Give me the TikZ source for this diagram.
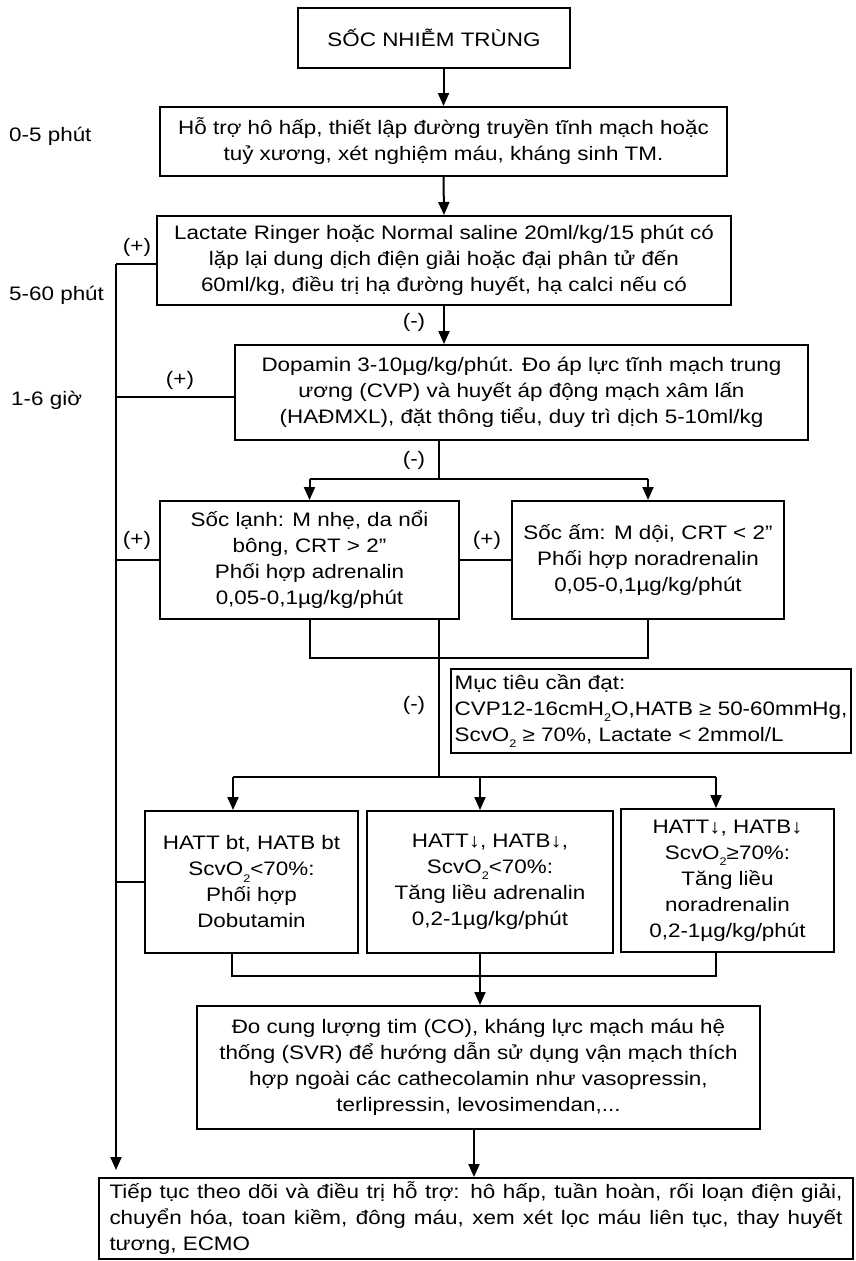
\documentclass[tikz,border=0pt]{standalone}
\usepackage{fontspec}
\setmainfont{Liberation Sans}[FakeStretch=1.15]
\usetikzlibrary{arrows.meta}
\newcommand{\subtwo}{\raisebox{-0.6ex}{\fontsize{11}{11}\selectfont 2}}
\begin{document}
\begin{tikzpicture}[x=1pt,y=-1pt,
  every node/.style={font=\fontsize{19.5}{26}\selectfont},
  box/.style={draw, line width=2pt, inner sep=0pt, align=center},
  link/.style={line width=2pt},
  arr/.style={line width=2pt, -{Triangle[length=13pt,width=11pt]}},
  sign/.style={inner sep=0pt},
  timelbl/.style={anchor=west, inner sep=0pt}]
\useasboundingbox (0,0) rectangle (855,1261);

% boxes of the flow
\node[box, minimum width=272, minimum height=60] (b1) at (434,38) {SỐC NHIỄM TRÙNG};
\node[box, minimum width=567, minimum height=69] (b2) at (443.5,141.5)
  {Hỗ trợ hô hấp, thiết lập đường truyền tĩnh mạch hoặc\\tuỷ xương, xét nghiệm máu, kháng sinh TM.};
\node[box, minimum width=574, minimum height=89] (b3) at (444,260.5)
  {Lactate Ringer hoặc Normal saline 20ml/kg/15 phút có\\lặp lại dung dịch điện giải hoặc đại phân tử đến\\60ml/kg, điều trị hạ đường huyết, hạ calci nếu có};
\node[box, minimum width=573, minimum height=95] (b4) at (521.5,392.5)
  {Dopamin 3-10µg/kg/phút. Đo áp lực tĩnh mạch trung\\ương (CVP) và huyết áp động mạch xâm lấn\\(HAĐMXL), đặt thông tiểu, duy trì dịch 5-10ml/kg};
\node[box, minimum width=299, minimum height=118] (b5) at (309.5,560)
  {Sốc lạnh: M nhẹ, da nổi\\bông, CRT > 2”\\Phối hợp adrenalin\\0,05-0,1µg/kg/phút};
\node[box, minimum width=272, minimum height=118] (b6) at (648,560)
  {Sốc ấm: M dội, CRT < 2”\\Phối hợp noradrenalin\\0,05-0,1µg/kg/phút};
\node[box, minimum width=400, minimum height=84, align=left] (goal) at (651,711)
  {Mục tiêu cần đạt:\\CVP12-16cmH\subtwo O,HATB ≥ 50-60mmHg,\\ScvO\subtwo\ ≥ 70\%, Lactate < 2mmol/L};
\node[box, minimum width=213, minimum height=142] (b7) at (251.5,882)
  {HATT bt, HATB bt\\ScvO\subtwo<70\%:\\Phối hợp\\Dobutamin};
\node[box, minimum width=246, minimum height=142] (b8) at (490,882)
  {HATT↓, HATB↓,\\ScvO\subtwo<70\%:\\Tăng liều adrenalin\\0,2-1µg/kg/phút};
\node[box, minimum width=213, minimum height=143] (b9) at (727.5,880.5)
  {HATT↓, HATB↓\\ScvO\subtwo≥70\%:\\Tăng liều\\noradrenalin\\0,2-1µg/kg/phút};
\node[box, minimum width=563, minimum height=123] (b10) at (478.5,1067.5)
  {Đo cung lượng tim (CO), kháng lực mạch máu hệ\\thống (SVR) để hướng dẫn sử dụng vận mạch thích\\hợp ngoài các cathecolamin như vasopressin,\\terlipressin, levosimendan,...};
\node[box, minimum width=754, minimum height=81, align=left] (b11) at (476,1218.5)
  {\makebox[733pt][s]{Tiếp tục theo dõi và điều trị hỗ trợ: hô hấp, tuần hoàn, rối loạn điện giải,}\\
   \makebox[733pt][s]{chuyển hóa, toan kiềm, đông máu, xem xét lọc máu liên tục, thay huyết}\\
   \makebox[733pt][l]{tương, ECMO}};

% time labels
\node[timelbl] (t1) at (9,136) {0-5 phút};
\node[timelbl] (t2) at (9,295) {5-60 phút};
\node[timelbl] (t3) at (11,400) {1-6 giờ};

% junction points
\coordinate (trunk) at (116,264);
\coordinate (trunkend) at (116,1170);
\coordinate (sp1) at (439,479);
\coordinate (mg1) at (439,658);
\coordinate (sp2) at (439,777);
\coordinate (mg2) at (480,976);
\coordinate (j3) at ([yshift=-3.5pt]b3.west);
\coordinate (j4) at ([yshift=-4.5pt]b4.west);

% main chain
\draw[arr] (b1.south -| b2.north) -- (b2.north);
\draw[arr] (b2.south) -- (b3.north);
\draw[arr] (b3.south) -- (b3.south |- b4.north);
\draw[link] (b4.south -| sp1) -- (sp1);
\draw[link] (b5.north |- sp1) -- (b6.north |- sp1);
\draw[arr] (b5.north |- sp1) -- (b5.north);
\draw[arr] (b6.north |- sp1) -- (b6.north);
\draw[link] (b5.east) -- (b6.west);

% merge of the two shock boxes
\draw[link] (b5.south) -- (b5.south |- mg1) -- (b6.south |- mg1) -- (b6.south);
\draw[link] (b5.south -| sp2) -- (sp2);

% second split
\draw[link] (233,777) -- (716,777);
\draw[arr] (233,777) -- (b7.north -| 233,0);
\draw[arr] (480,777) -- (b8.north -| 480,0);
\draw[arr] (716,777) -- (b9.north -| 716,0);

% merge of the three boxes
\draw[link] (b7.south -| 232,0) -- (232,976) -- (716,976) -- (b9.south -| 716,0);
\draw[link] (b8.south -| mg2) -- (mg2);
\draw[arr] (mg2) -- (b10.north -| mg2);
\draw[arr] (b10.south -| 474,0) -- (b11.north -| 474,0);

% left trunk for improving cases
\draw[link] (j3) -- (j3 -| trunk);
\draw[arr] (trunk) -- (trunkend);
\draw[link] (j4) -- (j4 -| trunk);
\draw[link] (b5.west) -- (b5.west -| trunk);
\draw[link] (b7.west) -- (b7.west -| trunk);

% branch signs
\node[sign] (p1) at (137,247) {(+)};
\node[sign] (p2) at (180,380) {(+)};
\node[sign] (p3) at (137,540) {(+)};
\node[sign] (p4) at (487,540) {(+)};
\node[sign] (m1) at (414,322) {(-)};
\node[sign] (m2) at (414,460) {(-)};
\node[sign] (m3) at (414,705) {(-)};
\end{tikzpicture}
\end{document}
